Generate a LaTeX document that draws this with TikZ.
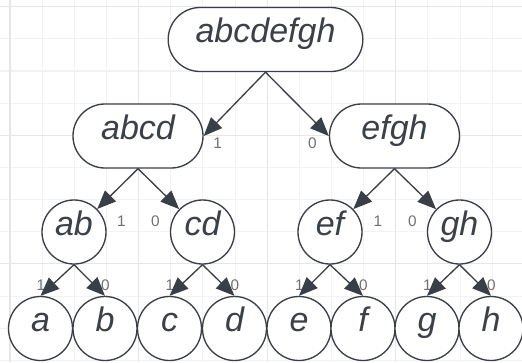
\documentclass[tikz,border=0pt]{standalone}
\usepackage{fontspec}
\setmainfont{Liberation Sans}
\usepackage{tikz}
\usetikzlibrary{positioning,arrows.meta,calc}
\definecolor{ink}{RGB}{58,62,70}
\definecolor{txt}{RGB}{60,64,72}
\definecolor{bitgrey}{RGB}{112,112,112}
\definecolor{gridminor}{RGB}{242,242,242}
\definecolor{gridmajor}{RGB}{230,230,230}
\tikzset{
  lbl/.style  ={font=\fontsize{25.5}{30}\selectfont\itshape, text=txt,
                text height=0.75em, text depth=0.28em, inner sep=0pt},
  pill/.style ={lbl, draw=ink, fill=white, line width=1pt, rounded corners=24pt,
                minimum height=48pt},
  circ/.style ={lbl, draw=ink, fill=white, line width=1pt, circle, minimum size=48pt},
  ar/.style   ={-{Triangle[length=14pt,width=11.5pt]}, draw=ink, line width=1pt},
  bit/.style  ={font=\fontsize{11.5}{13}\selectfont, text=bitgrey, inner sep=0pt},
}

\begin{document}
\begin{tikzpicture}[x=0.75pt,y=-0.75pt]
\useasboundingbox (0,0) rectangle (522,362);
% background grid
\foreach \i in {0,...,16}
  \draw[gridminor,line width=0.8pt] ({10+32.15*\i},0) -- ({10+32.15*\i},362);
\foreach \j in {0,...,11}
  \draw[gridminor,line width=0.8pt] (0,{6.7+32.15*\j}) -- (522,{6.7+32.15*\j});
\foreach \i in {0,4,...,16}
  \draw[gridmajor,line width=0.8pt] ({10+32.15*\i},0) -- ({10+32.15*\i},362);
\foreach \j in {0,4,8}
  \draw[gridmajor,line width=0.8pt] (0,{6.7+32.15*\j}) -- (522,{6.7+32.15*\j});

% tree
\node[pill,minimum width=146pt] (root) at (265.5,39.5) {abcdefgh};
\node[pill,minimum width=97.5pt] (abcd) at (138,136) {abcd};
\node[pill,minimum width=97.5pt] (efgh) at (394.5,136) {efgh};
\node[circ] (ab) at (74,232)    {ab};
\node[circ] (cd) at (202.5,232) {cd};
\node[circ] (ef) at (330,232)   {ef};
\node[circ] (gh) at (459.5,232) {gh};
\node[circ] (a) at (40.5,328.5) {a};
\node[circ] (b) at (105,328.5)  {b};
\node[circ] (c) at (169.5,328.5) {c};
\node[circ] (d) at (234.5,328.5) {d};
\node[circ] (e) at (299,328.5)  {e};
\node[circ] (f) at (363,328.5)  {f};
\node[circ] (g) at (427,328.5)  {g};
\node[circ] (h) at (491,328.5)  {h};

% bit labels
\node[bit] (b-abcd) at ($(abcd.east)+(14,7)$) {1};
\node[bit] (b-efgh) at ($(efgh.west)+(-16.5,7)$) {0};
\node[bit] (b-ab) at ($(ab)+(47.5,-10.5)$) {1};
\node[bit] (b-cd) at ($(cd)+(-47,-10.5)$) {0};
\node[bit] (b-ef) at ($(ef)+(48,-10.5)$) {1};
\node[bit] (b-gh) at ($(gh)+(-47,-10.5)$) {0};
\foreach \n/\v in {a/1,b/0,c/1,d/0,e/1,f/0,g/1,h/0}
  \node[bit] (b-\n) at ($(\n.north)+(0.5,-11)$) {\v};

% edges
\draw[ar] (root.south) -- (abcd.east);
\draw[ar] (root.south) -- (efgh.west);
\draw[ar] (abcd.south) -- (ab);
\draw[ar] (abcd.south) -- (cd);
\draw[ar] (efgh.south) -- (ef);
\draw[ar] (efgh.south) -- (gh);
\draw[ar] (ab.south) -- (a.north);
\draw[ar] (ab.south) -- (b.north);
\draw[ar] (cd.south) -- (c.north);
\draw[ar] (cd.south) -- (d.north);
\draw[ar] (ef.south) -- (e.north);
\draw[ar] (ef.south) -- (f.north);
\draw[ar] (gh.south) -- (g.north);
\draw[ar] (gh.south) -- (h.north);
\end{tikzpicture}
\end{document}
